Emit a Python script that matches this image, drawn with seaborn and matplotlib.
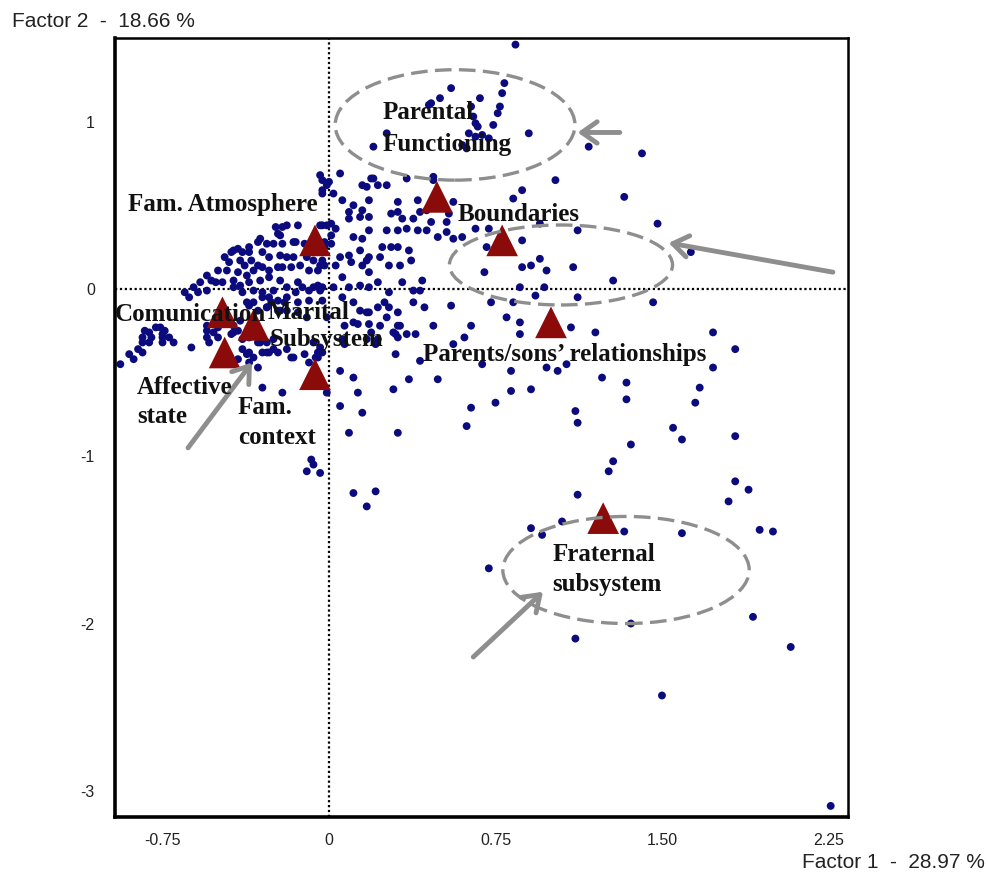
import numpy as np
import pandas as pd
import seaborn as sns
import matplotlib
import matplotlib.pyplot as plt
from matplotlib.patches import Ellipse

sns.set_style("white")
plt.rcParams['font.family'] = ['Liberation Sans', 'DejaVu Sans']

# individuals (factor 1, factor 2)
dim1 = [0.84, 0.55, 0.79, 0.78, 0.50, 0.68, 0.46, 0.45, 0.77, 0.64, 0.76, 0.65, 0.66, 0.67, 0.74, 0.90, 0.26, 0.63, 0.66, 0.69,
        0.72, 0.20, 0.60, 0.62, 1.17, 1.41, 1.02, 0.87, 1.33, 1.48, 1.63, 1.28, 1.46, 1.12, 0.97, 0.93, 0.70, 0.87, 0.91, 0.95,
        0.98, 1.10, 0.87, 0.95, 1.12, 0.73, 0.83, 0.55, 0.80, 0.86, 1.73, 1.83, 1.20, 1.09, 1.73, 1.67, 1.65, 1.34, 1.23, 0.91,
        0.82, 0.98, 1.03, 0.69, 0.82, 0.49, 0.36, 0.29, 0.13, 0.11, 0.75, 1.34, 1.11, 1.12, 0.64, 0.62, 1.55, 1.59, 1.83, 1.36,
        1.28, 1.26, 1.83, 1.89, 1.80, 1.12, 1.05, 0.91, 0.96, 1.33, 1.59, 1.94, 2.00, 0.72, 1.91, 1.36, 1.11, 2.08, 1.50, 2.26,
        0.47, 0.64, 0.61, 0.86, 1.07, 0.38, 0.43, 0.07, 0.13, 0.18, 0.31, 0.30, 0.35, 0.22, 0.21, 0.07, 0.56, 0.30, 0.41, 0.05,
        0.05, 0.15, 0.09, 0.31, -0.01, -0.06, -0.04, -0.08, -0.07, -0.10, -0.04, 0.11, 0.21, 0.17, 0.29, 0.23, 0.17, 0.11, 0.06, 0.17,
        0.26, -0.39, -0.34, -0.32, -0.30, -0.25, -0.16, -0.05, -0.07, -0.30, -0.21,
        0.05, 0.35, 0.20, 0.15, 0.22, 0.26, 0.47, 0.83, -0.01, -0.03, 0.02, 0.06, 0.11, 0.09, 0.15, 0.18, 0.14, 0.18, 0.09, 0.31,
        0.40, 0.56, 0.31, 0.28, 0.33, 0.38, 0.41, 0.44, 0.46, 0.54, 0.53, 0.26, 0.31, 0.35, 0.40, 0.44, 0.49, 0.53, 0.56, 0.60,
        0.66, 0.72, 0.71, 0.11, 0.15, 0.18, -0.01, 0.03, 0.01, -0.02, 0.24, 0.28, 0.31, 0.36, 0.37, 0.32, 0.27, 0.23, 0.18, 0.14,
        0.09, 0.05, 0.03, 0.10, 0.15, 0.17, 0.06, 0.18, 0.22, 0.33, 0.42, -0.02, -0.03, 0.02, 0.09, 0.14, 0.18, 0.27, 0.38, 0.41,
        0.86, 0.06, 0.11, 0.14, 0.18, 0.22, 0.25, 0.27, 0.31, 0.32, 0.19, 0.39, 0.31, -0.01, -0.04, 0.00, -0.03, 0.19, 0.17, 0.47,
        -0.03,
        -0.24, -0.19, -0.14, -0.16, -0.11, -0.03, 0.01, -0.02, -0.22, -0.28, -0.32, -0.25, -0.21, -0.30, -0.36, -0.41, -0.44, -0.47,
        -0.45, -0.40, -0.38, -0.35, -0.32, -0.27, -0.22, -0.19, -0.16, -0.10, -0.07, -0.03, -0.50, -0.46, -0.41, -0.37, -0.34, -0.30,
        -0.27, -0.23, -0.21, -0.17, -0.13, -0.09, -0.05, -0.04, -0.55, -0.53, -0.58, -0.61, -0.65, -0.63, -0.59, -0.55, -0.51, -0.48,
        -0.43, -0.40, -0.36, -0.31, -0.27, -0.22, -0.19, -0.14, -0.12, -0.07, -0.04, -0.43, -0.39, -0.34, -0.30, -0.25, -0.27, -0.23,
        -0.19, -0.15, -0.36, -0.32, -0.28, -0.23, -0.19, -0.14, -0.10, -0.55, -0.50, -0.48, -0.43, -0.41, -0.40, -0.55, -0.52, -0.44,
        -0.36, -0.31, -0.25, -0.36, -0.27, -0.19, -0.11, -0.05,
        -0.83, -0.81, -0.78, -0.76, -0.74, -0.72, -0.84, -0.80, -0.75, -0.75, -0.62, -0.94, -0.90, -0.86, -0.84, -0.75, -0.81, -0.84,
        -0.88, -0.70, -0.21, -0.23, -0.15, -0.04, 0.01, -0.31, -0.36, -0.39, -0.43, -0.55, -0.50, -0.54, -0.43, -0.39, -0.32, -0.28,
        -0.28, -0.37, -0.41, -0.36, -0.09, -0.17, -0.23, -0.03, -0.37, -0.34, -0.30, -0.26, -0.20, -0.14, -0.09, -0.03, -0.28, -0.22,
        -0.09, -0.05]
dim2 = [1.46, 1.20, 1.23, 1.17, 1.14, 1.14, 1.11, 1.10, 1.09, 1.09, 1.05, 1.03, 0.99, 0.97, 0.98, 0.93, 0.93, 0.93, 0.91, 0.92,
        0.90, 0.85, 0.86, 0.84, 0.85, 0.81, 0.65, 0.59, 0.55, 0.39, 0.22, 0.05, -0.08, -0.05, 0.01, -0.04, 0.10, 0.13, 0.14, 0.18,
        0.11, 0.13, 0.29, 0.39, 0.35, -0.08, -0.08, -0.10, -0.17, -0.20, -0.26, -0.36, -0.26, -0.23, -0.47, -0.59, -0.68, -0.56, -0.53, -0.60,
        -0.61, -0.47, -0.49, -0.45, -0.49, -0.54, -0.54, -0.60, -0.62, -0.53, -0.68, -0.66, -0.73, -0.80, -0.71, -0.82, -0.83, -0.90, -0.88, -0.93,
        -1.03, -1.09, -1.15, -1.20, -1.27, -1.23, -1.39, -1.43, -1.47, -1.45, -1.46, -1.44, -1.45, -1.67, -1.96, -2.00, -2.09, -2.14, -2.43, -3.09,
        -0.22, -0.22, -0.29, -0.27, -0.45, -0.08, -0.11, -0.22, -0.21, -0.21, -0.22, -0.27, -0.27, -0.30, -0.33, -0.33, -0.33, -0.39, -0.43, -0.49,
        -0.70, -0.74, -0.86, -0.86, -0.62, -0.41, -0.35, -1.02, -1.05, -1.09, -1.10, -1.22, -1.21, -1.30, -0.26, -0.22, -0.14, -0.20, -0.30, -0.30,
        -0.17, -0.36, -0.41, -0.47, -0.38, -0.36, -0.41, -0.41, -0.32, -0.59, -0.62,
        0.69, 0.66, 0.66, 0.62, 0.62, 0.62, 0.67, 0.54, 0.62, 0.65, 0.57, 0.53, 0.50, 0.46, 0.47, 0.53, 0.43, 0.43, 0.42, 0.52,
        0.53, 0.52, 0.46, 0.45, 0.42, 0.42, 0.46, 0.47, 0.40, 0.45, 0.40, 0.35, 0.35, 0.36, 0.35, 0.35, 0.31, 0.34, 0.30, 0.31,
        0.36, 0.36, 0.25, 0.31, 0.30, 0.35, 0.38, 0.36, 0.32, 0.28, 0.25, 0.25, 0.25, 0.23, 0.17, 0.14, 0.14, 0.19, 0.19, 0.23,
        0.20, 0.19, 0.14, 0.16, 0.14, 0.17, 0.07, 0.10, 0.04, 0.04, 0.05, 0.14, 0.01, 0.01, 0.01, 0.02, 0.01, -0.02, -0.01, -0.01,
        0.01, -0.05, -0.08, -0.13, -0.14, -0.11, -0.08, -0.11, -0.14, -0.22, -0.26, -0.27, -0.29, -0.17, 0.68, 0.64, 0.59, 0.66, 0.61, 0.65,
        0.57,
        0.37, 0.38, 0.38, 0.28, 0.27, 0.38, 0.39, 0.25, 0.32, 0.27, 0.28, 0.27, 0.27, 0.22, 0.22, 0.24, 0.22, 0.19,
        0.16, 0.17, 0.14, 0.17, 0.14, 0.19, 0.20, 0.19, 0.19, 0.19, 0.17, 0.17, 0.11, 0.11, 0.10, 0.08, 0.11, 0.13,
        0.11, 0.13, 0.13, 0.13, 0.14, 0.11, 0.11, 0.14, 0.08, 0.05, 0.04, 0.01, -0.02, -0.05, -0.02, -0.01, 0.04, 0.04,
        0.05, 0.02, 0.04, 0.05, 0.07, 0.05, 0.01, 0.04, 0.01, 0.01, -0.01, 0.01, -0.02, -0.01, -0.02, -0.01, -0.05, -0.07,
        -0.05, -0.02, -0.10, -0.13, -0.11, -0.13, -0.13, -0.14, -0.17, -0.22, -0.23, -0.20, -0.22, -0.25, -0.19, -0.29, -0.26, -0.27,
        -0.29, -0.32, -0.30, -0.38, -0.38, -0.36, -0.39, -0.38,
        -0.25, -0.26, -0.23, -0.23, -0.25, -0.29, -0.29, -0.29, -0.29, -0.32, -0.35, -0.45, -0.39, -0.36, -0.32, -0.27, -0.32, -0.38,
        -0.42, -0.32, 0.37, 0.33, 0.28, 0.38, 0.27, 0.30, 0.25, 0.22, 0.23, -0.25, -0.29, -0.32, -0.26, -0.30, -0.32, -0.32,
        -0.38, -0.39, -0.42, -0.44, -0.44, -0.41, -0.38, -0.38, -0.08, -0.08, -0.05, -0.08, -0.08, -0.08, -0.07, -0.07, -0.11, -0.13,
        -0.01, 0.02]

# variable groups (supplementary points)
groups = ['Fam. Atmosphere', 'Comunication', 'Marital Subsystem', 'Affective state', 'Fam. context',
          'Parental Functioning', 'Boundaries', "Parents/sons' relationships", 'Fraternal subsystem']
grp_dim1 = [-0.063, -0.48, -0.34, -0.47, -0.063, 0.486, 0.78, 1.0, 1.235]
grp_dim2 = [0.29, -0.14, -0.215, -0.38, -0.51, 0.55, 0.29, -0.20, -1.37]

# label text lines, left edge and vertical centre
label_lines = ['Parental', 'Functioning', 'Fam. Atmosphere', 'Boundaries', 'Comunication', 'Marital', 'Subsystem',
               'Affective', 'state', 'Fam.', 'context', 'Parents/sons\u2019 relationships', 'Fraternal', 'subsystem']
label_x = [0.243, 0.243, -0.905, 0.581, -0.964, -0.275, -0.266, -0.865, -0.865, -0.41, -0.41, 0.423, 1.005, 1.005]
label_y = [1.052, 0.861, 0.502, 0.442, -0.155, -0.143, -0.305, -0.592, -0.765, -0.711, -0.891, -0.394, -1.59, -1.769]

# dashed highlight ellipses: centre x, centre y, width, height
ell_cx = [0.568, 1.045, 1.338]
ell_cy = [0.98, 0.143, -1.68]
ell_w = [1.08, 1.005, 1.11]
ell_h = [0.66, 0.478, 0.64]

# arrows tail -> head
arr_x0 = [1.31, 2.27, -0.635, 0.65]
arr_y0 = [0.935, 0.10, -0.95, -2.20]
arr_x1 = [1.12, 1.53, -0.347, 0.964]
arr_y1 = [0.935, 0.275, -0.44, -1.81]

pts = pd.DataFrame({'f1': dim1, 'f2': dim2})
grp = pd.DataFrame({'f1': grp_dim1, 'f2': grp_dim2, 'group': groups})

fig = plt.figure(figsize=(9.88, 8.76), dpi=100)
ax = fig.add_axes([0.1164, 0.0674, 0.7419, 0.8893])

ax.axhline(0, color='black', lw=1.6, ls=(0, (1, 1.2)), zorder=1)
ax.axvline(0, color='black', lw=1.6, ls=(0, (1, 1.2)), zorder=1)

sns.scatterplot(data=pts, x='f1', y='f2', ax=ax, color='#0b0b7e', s=32, marker='o',
                edgecolor='none', linewidth=0, zorder=2)
sns.scatterplot(data=grp, x='f1', y='f2', ax=ax, color='#8b0a0a', s=520, marker='^',
                edgecolor='none', linewidth=0, zorder=3)

for cx, cy, w, h in zip(ell_cx, ell_cy, ell_w, ell_h):
    ax.add_patch(Ellipse((cx, cy), w, h, fill=False, edgecolor='#8e8e8e', lw=2.4,
                         ls=(0, (5, 2.2)), zorder=4))

for x0, y0, x1, y1 in zip(arr_x0, arr_y0, arr_x1, arr_y1):
    ax.annotate('', xy=(x1, y1), xytext=(x0, y0),
                arrowprops=dict(arrowstyle='->,head_length=0.5,head_width=0.35', color='#8e8e8e',
                                lw=3.5, shrinkA=0, shrinkB=0, mutation_scale=22), zorder=5)

for txt, x, y in zip(label_lines, label_x, label_y):
    ax.text(x, y, txt, ha='left', va='center', fontsize=18, fontweight='bold',
            family=['Liberation Serif', 'DejaVu Serif'], color='#111111', zorder=6)

ax.set_xlim(-0.964, 2.338)
ax.set_ylim(-3.156, 1.50)
ax.set_xticks([-0.75, 0, 0.75, 1.5, 2.25])
ax.set_xticklabels(['-0.75', '0', '0.75', '1.50', '2.25'])
ax.set_yticks([1, 0, -1, -2, -3])
ax.set_yticklabels(['1', '0', '-1', '-2', '-3'])
ax.set_xlabel('')
ax.set_ylabel('')
ax.tick_params(direction='inout', length=11, width=1.6, color='black', labelsize=11.5)
ax.tick_params(axis='x', pad=6)
ax.tick_params(axis='y', pad=9)
for lab in ax.get_xticklabels() + ax.get_yticklabels():
    lab.set_color('#222222')
for side in ['left', 'bottom']:
    ax.spines[side].set_linewidth(2.6)
for side in ['top', 'right']:
    ax.spines[side].set_linewidth(1.8)
for sp in ax.spines.values():
    sp.set_color('black')

fig.text(0.012, 0.975, 'Factor 2  -  18.66 %', ha='left', va='center', fontsize=15, color='#222222')
fig.text(0.997, 0.015, 'Factor 1  -  28.97 %', ha='right', va='center', fontsize=15, color='#222222')

fig.savefig('out.png', dpi=100)
